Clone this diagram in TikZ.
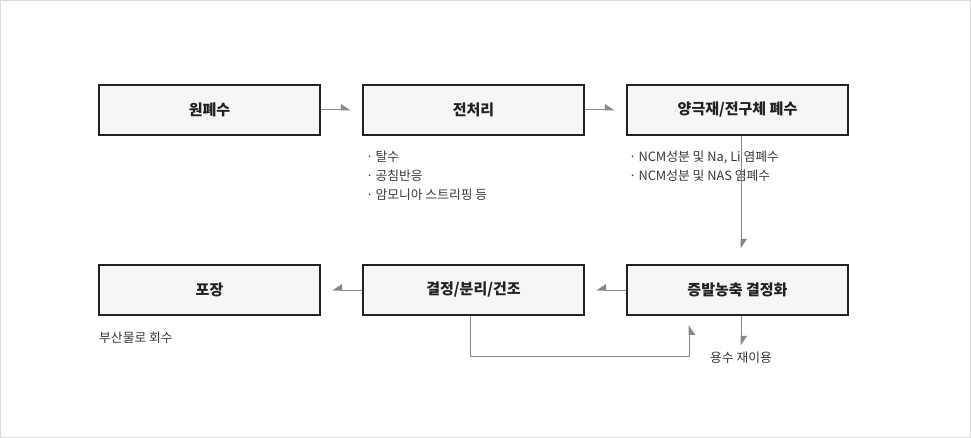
\documentclass[tikz,border=0pt]{standalone}
\usepackage{fontspec}
\setmainfont{Noto Sans CJK KR}
\usetikzlibrary{arrows.meta,calc}
\definecolor{boxfill}{HTML}{F5F6F8}
\definecolor{boxline}{HTML}{222222}
\definecolor{conn}{HTML}{888888}
\definecolor{txt}{HTML}{222222}
\definecolor{note}{HTML}{3A3A3A}
\definecolor{frame}{HTML}{DADADA}
\tikzset{
  stepbox/.style={draw=boxline, fill=boxfill, line width=1.2pt, minimum width=221pt, minimum height=50pt, inner sep=0pt, font=\fontsize{15}{17}\selectfont\bfseries, text=txt},
  notetext/.style={anchor=west, inner sep=0pt, font=\fontsize{12.8}{14}\selectfont, text=note},
  conn/.style={draw=conn, line width=1pt},
  harpL/.style={conn, -{Triangle[harpoon, length=9pt, width=12pt]}},
  harpR/.style={conn, -{Triangle[harpoon, swap, length=9pt, width=12pt]}},
}
\begin{document}
\begin{tikzpicture}[x=1pt,y=-1pt]
\useasboundingbox (0,0) rectangle (971,438);
\draw[frame, line width=1pt] (0.5,0.5) rectangle (970.5,437.5);

\node[stepbox] (b1) at (209.5,110) {원폐수};
\node[stepbox] (b2) at (473.5,110) {전처리};
\node[stepbox] (b3) at (737.5,110) {양극재/전구체 폐수};
\node[stepbox] (b4) at (209.5,290) {포장};
\node[stepbox] (b5) at (473.5,290) {결정/분리/건조};
\node[stepbox] (b6) at (737.5,290) {증발농축 결정화};

\node[notetext] (n1) at (366,157) {·\,탈수};
\node[notetext] (n2) at (366,176) {·\,공침반응};
\node[notetext] (n3) at (366,195) {·\,암모니아 스트리핑 등};
\node[notetext] (n4) at (629,157) {·\,NCM성분 및 Na, Li 염폐수};
\node[notetext] (n5) at (629,176) {·\,NCM성분 및 NAS 염폐수};
\node[notetext] (n6) at (99,338) {부산물로 회수};
\node[inner sep=0pt, font=\fontsize{12.8}{14}\selectfont, text=note] (n7) at (741,358) {용수 재이용};

\coordinate (a1) at ($(b1.east)+(30,0)$);
\coordinate (a2) at ($(b2.east)+(30,0)$);
\coordinate (a3) at ($(b3.south -| 741,0)+(0,113)$);
\coordinate (a4) at ($(b6.west)+(-30,0)$);
\coordinate (a5) at ($(b5.west)+(-30,0)$);
\coordinate (a6) at ($(b6.south -| 741,0)+(0,30)$);
\coordinate (c1) at (470,356);
\coordinate (c2) at (689,356);
\coordinate (a7) at (689,325);

\draw[harpL] (b1.east) -- (a1);
\draw[harpL] (b2.east) -- (a2);
\draw[harpL] (b3.south -| 741,0) -- (a3);
\draw[harpR] (b6.west) -- (a4);
\draw[harpR] (b5.west) -- (a5);
\draw[harpL] (b6.south -| 741,0) -- (a6);
\draw[harpR] (b5.south -| c1) -- (c1) -- (c2) -- (a7);
\end{tikzpicture}
\end{document}
